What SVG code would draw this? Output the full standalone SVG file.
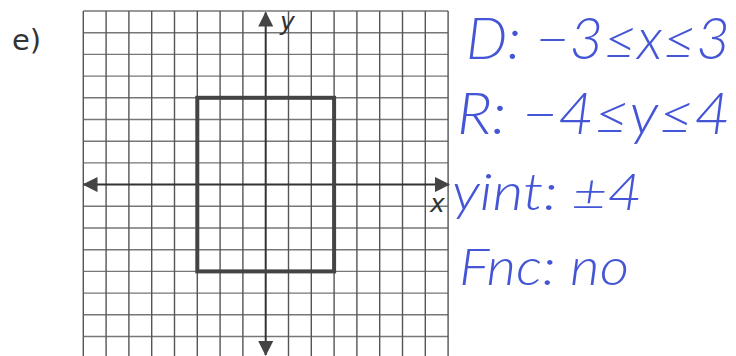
<svg xmlns="http://www.w3.org/2000/svg" width="736" height="356" viewBox="0 0 736 356">
  <style>
    .grid { stroke: #555; stroke-width: 1.4; fill: none; }
    .gridh { stroke: #777; stroke-width: 1.4; fill: none; }
    .axis { stroke: #333; stroke-width: 2; fill: none; }
    .rect { stroke: #444; stroke-width: 4; fill: none; }
    .lbl { font-family: "DejaVu Sans", "Liberation Sans", sans-serif; fill: #333; }
    .hand { font-family: Lato, "Open Sans", sans-serif; font-style: italic; font-weight: 300; fill: #4456d6; }
  </style>
  <defs>
    <marker id="arr" viewBox="0 0 15 15" refX="14" refY="7.5" markerWidth="15" markerHeight="15" markerUnits="userSpaceOnUse" orient="auto">
      <path d="M0,0 L15,7.5 L0,15 Z" fill="#444"/>
    </marker>
  </defs>
  <rect width="736" height="356" fill="#fff"/>
  <text class="lbl" x="12" y="50" font-size="29">e)</text>

  <g id="grid">
    <path class="gridh" d="M83.3,11H448.1 M83.3,32.7H448.1 M83.3,54.4H448.1 M83.3,76.1H448.1 M83.3,97.8H448.1 M83.3,119.5H448.1 M83.3,141.2H448.1 M83.3,162.9H448.1 M83.3,206.3H448.1 M83.3,228H448.1 M83.3,249.7H448.1 M83.3,271.4H448.1 M83.3,293.1H448.1 M83.3,314.8H448.1 M83.3,336.5H448.1"/>
    <path class="grid" d="M83.3,11V356 M106.1,11V356 M128.9,11V356 M151.7,11V356 M174.5,11V356 M197.3,11V356 M220.1,11V356 M242.9,11V356 M288.5,11V356 M311.3,11V356 M334.1,11V356 M356.9,11V356 M379.7,11V356 M402.5,11V356 M425.3,11V356 M448.1,11V356"/>
  </g>

  <g id="axes">
    <line class="axis" x1="265.7" y1="184.6" x2="449" y2="184.6" marker-end="url(#arr)"/>
    <line class="axis" x1="265.7" y1="184.6" x2="83.5" y2="184.6" marker-end="url(#arr)"/>
    <line class="axis" x1="265.7" y1="184.6" x2="265.7" y2="12.5" marker-end="url(#arr)"/>
    <line class="axis" x1="265.7" y1="184.6" x2="265.7" y2="355" marker-end="url(#arr)"/>
    <text class="lbl" x="280" y="30" font-size="25" font-style="italic">y</text>
    <text class="lbl" x="430" y="212" font-size="25" font-style="italic">x</text>
  </g>

  <g id="rectangle">
    <rect class="rect" x="197.3" y="97.8" width="136.8" height="173.6"/>
  </g>

  <g id="annotations">
    <text class="hand" x="466" y="59" font-size="58" textLength="264" lengthAdjust="spacingAndGlyphs">D: −3≤x≤3</text>
    <text class="hand" x="457" y="134" font-size="58" textLength="273" lengthAdjust="spacingAndGlyphs">R: −4≤y≤4</text>
    <text class="hand" x="452" y="210" font-size="52" textLength="190" lengthAdjust="spacingAndGlyphs">yint: ±4</text>
    <text class="hand" x="459" y="285" font-size="52" textLength="170" lengthAdjust="spacingAndGlyphs">Fnc: no</text>
  </g>
</svg>
